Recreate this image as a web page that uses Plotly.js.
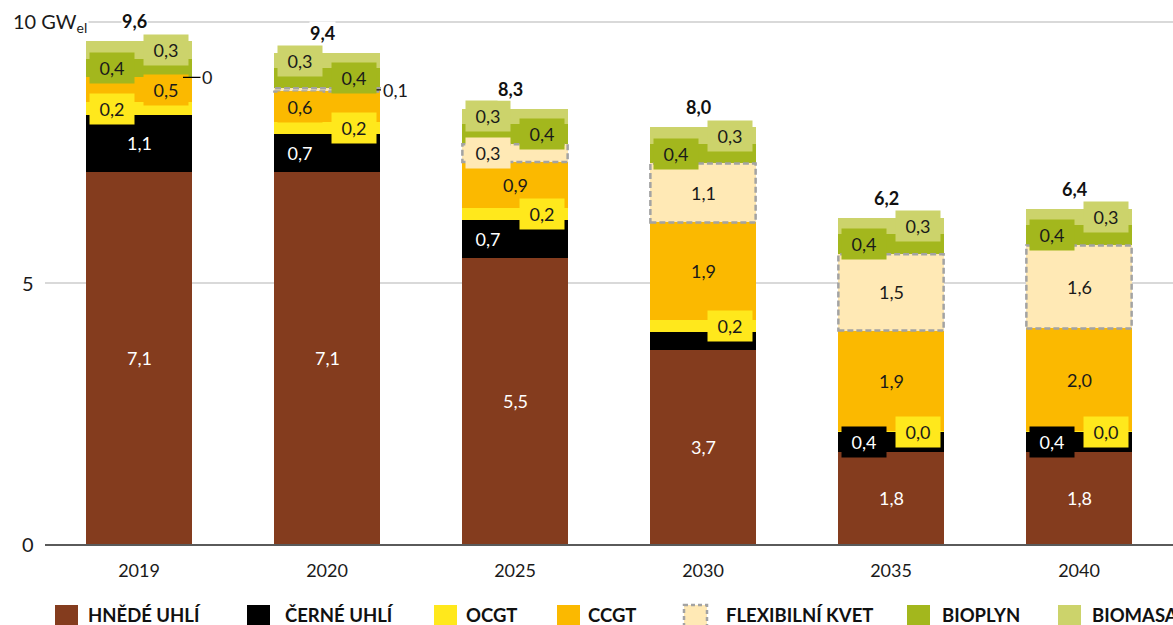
<!DOCTYPE html>
<html>
<head>
<meta charset="utf-8">
<script src="https://cdn.plot.ly/plotly-3.0.1.min.js"></script>
<style>
  html, body { margin: 0; padding: 0; background: #fff; }
  #chart { width: 1173px; height: 625px; }
</style>
</head>
<body>
<div id="chart"></div>
<script>
// Data (GW_el)
const years = ['2019', '2020', '2025', '2030', '2035', '2040'];
const hnedeUhli = [7.13, 7.13, 5.48, 3.72, 1.76, 1.76];
const cerneUhli = [1.09, 0.73, 0.73, 0.34, 0.39, 0.39];
const ocgt = [0.24, 0.23, 0.23, 0.24, 0.01, 0.01];
const ccgt = [0.48, 0.58, 0.88, 1.86, 1.93, 1.97];
const flexKvet = [0, 0.06, 0.34, 1.13, 1.46, 1.59];
const bioplyn = [0.36, 0.38, 0.38, 0.38, 0.39, 0.39];
const biomasa = [0.33, 0.30, 0.30, 0.31, 0.30, 0.30];
const seriesNames = ['HNĚDÉ UHLÍ', 'ČERNÉ UHLÍ', 'OCGT', 'CCGT', 'FLEXIBILNÍ KVET', 'BIOPLYN', 'BIOMASA'];

const series = [hnedeUhli, cerneUhli, ocgt, ccgt, flexKvet, bioplyn, biomasa];
const colors = ['#843c1e', '#000000', '#ffe81c', '#fbb900', '#ffe9b5', '#a3b71d', '#ccd36b'];
const textColors = ['#ffffff', '#ffffff', '#1a1a1a', '#1a1a1a', '#1a1a1a', '#1a1a1a', '#1a1a1a'];
// where each value label sits: c = centre, l = left box, r = right box, o = outside with leader, '' = none
const labelPos = [
  ['c', 'c', 'c', 'c', 'c', 'c'],
  ['c', 'l', 'l', '', 'l', 'l'],
  ['l', 'r', 'r', 'r', 'r', 'r'],
  ['r', 'l', 'c', 'c', 'c', 'c'],
  ['o', 'o', 'l', 'c', 'c', 'c'],
  ['l', 'r', 'r', 'l', 'l', 'l'],
  ['r', 'l', 'l', 'r', 'r', 'r']
];

const fmt = v => v === 0 ? '0' : v.toFixed(1).replace('.', ',');
const FONT = 'Lato, "Open Sans", sans-serif';
const BARW = 0.56;

// pixel -> paper helpers (plot area 45..1173 x 6..544)
const xp = px => (px - 45) / 1128;
const yp = py => (544 - py) / 538;

const traces = series.map((vals, s) => ({
  type: 'bar',
  name: seriesNames[s],
  x: years,
  y: vals,
  marker: { color: colors[s], line: { width: 0 } },
  hoverinfo: 'skip',
  showlegend: false
}));

const annotations = [];
const shapes = [];

years.forEach((yr, i) => {
  let base = 0;
  series.forEach((vals, s) => {
    const v = vals[i];
    const mid = base + v / 2;
    const pos = labelPos[s][i];
    if (s === 4 && v > 0) {
      shapes.push({
        type: 'rect', xref: 'x', yref: 'y',
        x0: i - BARW / 2, x1: i + BARW / 2,
        y0: base, y1: base + v,
        line: { color: '#a3a3a3', width: 2.5, dash: '6px,3px' },
        fillcolor: 'rgba(0,0,0,0)'
      });
    }
    if (pos === 'c') {
      annotations.push({
        x: i, y: mid, text: fmt(v), showarrow: false,
        font: { family: FONT, size: 18, color: textColors[s] }
      });
    } else if (pos === 'l' || pos === 'r') {
      annotations.push({
        x: i, y: mid, text: fmt(v), showarrow: false,
        xshift: pos === 'l' ? -27 : 27,
        width: 36, height: 22, borderpad: 4,
        bgcolor: colors[s],
        font: { family: FONT, size: 18, color: textColors[s] }
      });
    } else if (pos === 'o') {
      annotations.push({
        x: i, y: mid, text: fmt(v), showarrow: true,
        arrowhead: 0, arrowwidth: 1.2, arrowcolor: '#000',
        xshift: 44, ax: 24, ay: 0, standoff: 0,
        font: { family: FONT, size: 18, color: '#1a1a1a' }
      });
    }
    base += v;
  });
  // total
  annotations.push({
    x: i, y: base, text: '<b>' + fmt(base) + '</b>', showarrow: false,
    yanchor: 'bottom', yshift: 8, xshift: -5, bgcolor: '#ffffff', borderpad: 0,
    font: { family: FONT, size: 18, color: '#111111' }
  });
});

// y tick labels
annotations.push(
  { xref: 'paper', yref: 'y', x: 0, y: 0, xanchor: 'right', xshift: -9, text: '0', showarrow: false,
    font: { family: FONT, size: 20, color: '#1a1a1a' } },
  { xref: 'paper', yref: 'y', x: 0, y: 5, xanchor: 'right', xshift: -9, text: '5', showarrow: false,
    font: { family: FONT, size: 20, color: '#1a1a1a' } },
  { xref: 'paper', yref: 'y', x: 0, y: 10, xanchor: 'left', xshift: -34, text: '10 GW<sub>el</sub>', showarrow: false,
    bgcolor: '#ffffff', borderpad: 1,
    font: { family: FONT, size: 20, color: '#1a1a1a' } }
);

// legend drawn by hand to match spacing
const legendSquares = [55, 247, 434, 557, 684, 907, 1058];
const legendTexts = [86, 283, 464, 586, 724, 940, 1090];
seriesNames.forEach((name, s) => {
  shapes.push({
    type: 'rect', xref: 'paper', yref: 'paper',
    x0: xp(legendSquares[s]), x1: xp(legendSquares[s] + 23),
    y0: yp(605), y1: yp(628),
    fillcolor: colors[s],
    line: s === 4 ? { color: '#a3a3a3', width: 2.5, dash: '4px,3px' } : { width: 0 }
  });
  annotations.push({
    xref: 'paper', yref: 'paper', x: xp(legendTexts[s]), y: yp(615),
    xanchor: 'left', yanchor: 'middle', showarrow: false,
    text: '<b>' + name + '</b>',
    font: { family: FONT, size: 18.5, color: '#111111' }
  });
});

const layout = {
  width: 1173,
  height: 625,
  margin: { l: 45, r: 0, t: 6, b: 81 },
  paper_bgcolor: '#ffffff',
  plot_bgcolor: '#ffffff',
  barmode: 'stack',
  bargap: 0.44,
  showlegend: false,
  font: { family: FONT, color: '#1a1a1a' },
  xaxis: {
    type: 'category',
    range: [-0.5, years.length - 0.5],
    showline: true, linecolor: '#5a5a5a', linewidth: 1.5,
    ticks: '', showgrid: false,
    ticklabelstandoff: 10,
    tickfont: { family: FONT, size: 18, color: '#1a1a1a' }
  },
  yaxis: {
    range: [0, 538 / 52.2],
    tickvals: [0, 5, 10],
    showticklabels: false,
    gridcolor: '#d9d9d9', gridwidth: 1.2,
    zeroline: false
  },
  shapes: shapes,
  annotations: annotations
};

Plotly.newPlot('chart', traces, layout, { displayModeBar: false, staticPlot: true });
</script>
</body>
</html>
